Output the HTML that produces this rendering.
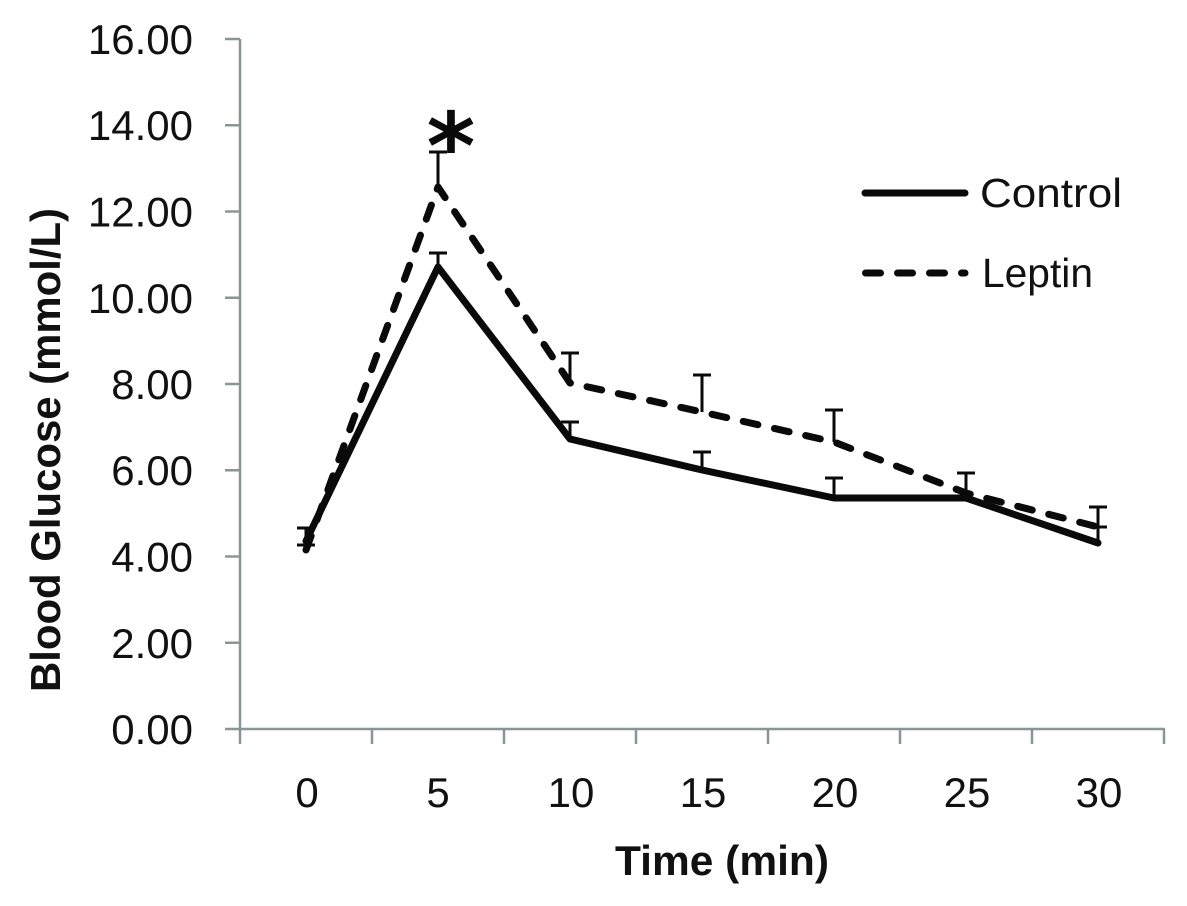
<!DOCTYPE html>
<html>
<head>
<meta charset="utf-8">
<style>
  html, body { margin: 0; padding: 0; background: #ffffff; }
  svg { display: block; }
</style>
</head>
<body>
<svg width="1187" height="906" viewBox="0 0 1187 906" xmlns="http://www.w3.org/2000/svg">
  <rect width="1187" height="906" fill="#ffffff"/>

  <!-- Axes -->
  <g stroke="#8a9696" stroke-width="2.5" fill="none">
    <line x1="240" y1="39" x2="240" y2="729"/>
    <line x1="225" y1="729" x2="1165" y2="729"/>
    <!-- y ticks -->
    <line x1="225" y1="39" x2="240" y2="39"/>
    <line x1="225" y1="125.25" x2="240" y2="125.25"/>
    <line x1="225" y1="211.5" x2="240" y2="211.5"/>
    <line x1="225" y1="297.75" x2="240" y2="297.75"/>
    <line x1="225" y1="384" x2="240" y2="384"/>
    <line x1="225" y1="470.25" x2="240" y2="470.25"/>
    <line x1="225" y1="556.5" x2="240" y2="556.5"/>
    <line x1="225" y1="642.75" x2="240" y2="642.75"/>
    <!-- x ticks -->
    <line x1="240" y1="729" x2="240" y2="744"/>
    <line x1="372" y1="729" x2="372" y2="744"/>
    <line x1="504" y1="729" x2="504" y2="744"/>
    <line x1="636" y1="729" x2="636" y2="744"/>
    <line x1="768" y1="729" x2="768" y2="744"/>
    <line x1="900" y1="729" x2="900" y2="744"/>
    <line x1="1032" y1="729" x2="1032" y2="744"/>
    <line x1="1164" y1="729" x2="1164" y2="744"/>
  </g>

  <!-- Y tick labels -->
  <g font-family="'Liberation Sans', Arial, sans-serif" font-size="42" fill="#111" text-anchor="end">
    <text x="193" y="54">16.00</text>
    <text x="193" y="140">14.00</text>
    <text x="193" y="226.5">12.00</text>
    <text x="193" y="313">10.00</text>
    <text x="193" y="399">8.00</text>
    <text x="193" y="485">6.00</text>
    <text x="193" y="571.5">4.00</text>
    <text x="193" y="658">2.00</text>
    <text x="193" y="744">0.00</text>
  </g>

  <!-- X tick labels -->
  <g font-family="'Liberation Sans', Arial, sans-serif" font-size="42" fill="#111" text-anchor="middle">
    <text x="307" y="807">0</text>
    <text x="438" y="807">5</text>
    <text x="571" y="807">10</text>
    <text x="703" y="807">15</text>
    <text x="835" y="807">20</text>
    <text x="967" y="807">25</text>
    <text x="1099" y="807">30</text>
  </g>

  <!-- Axis titles -->
  <text x="722" y="875" font-family="'Liberation Sans', Arial, sans-serif" font-size="42" font-weight="bold" fill="#111" text-anchor="middle" textLength="214" lengthAdjust="spacingAndGlyphs">Time (min)</text>
  <text transform="translate(60,450) rotate(-90)" x="0" y="0" font-family="'Liberation Sans', Arial, sans-serif" font-size="42" font-weight="bold" fill="#111" text-anchor="middle" textLength="484" lengthAdjust="spacingAndGlyphs">Blood Glucose (mmol/L)</text>

  <!-- Error bars -->
  <g stroke="#0a0a0a" stroke-width="3" fill="none">
    <!-- Control -->
    <line x1="306" y1="541" x2="306" y2="528"/><line x1="297" y1="528" x2="315" y2="528"/>
    <line x1="438" y1="267" x2="438" y2="253"/><line x1="429" y1="253" x2="447" y2="253"/>
    <line x1="570" y1="439" x2="570" y2="422"/><line x1="561" y1="422" x2="579" y2="422"/>
    <line x1="702" y1="470" x2="702" y2="452"/><line x1="693" y1="452" x2="711" y2="452"/>
    <line x1="834" y1="498" x2="834" y2="478"/><line x1="825" y1="478" x2="843" y2="478"/>
    <line x1="1098" y1="543" x2="1098" y2="527"/><line x1="1089" y1="527" x2="1107" y2="527"/>
    <!-- Leptin -->
    <line x1="306" y1="550" x2="306" y2="545"/><line x1="297" y1="545" x2="315" y2="545"/>
    <line x1="438" y1="187" x2="438" y2="152"/><line x1="429" y1="152" x2="447" y2="152"/>
    <line x1="570" y1="383" x2="570" y2="353"/><line x1="561" y1="353" x2="579" y2="353"/>
    <line x1="702" y1="412" x2="702" y2="375"/><line x1="693" y1="375" x2="711" y2="375"/>
    <line x1="834" y1="442" x2="834" y2="410"/><line x1="825" y1="410" x2="843" y2="410"/>
    <line x1="966" y1="493" x2="966" y2="473"/><line x1="957" y1="473" x2="975" y2="473"/>
    <line x1="1098" y1="527" x2="1098" y2="507"/><line x1="1089" y1="507" x2="1107" y2="507"/>
  </g>

  <!-- Series -->
  <polyline points="306,541 438,267 570,439 702,470 834,498 966,498 1098,543" fill="none" stroke="#0a0a0a" stroke-width="7" stroke-linejoin="round" stroke-linecap="round"/>
  <polyline points="306,550 438,187 570,383 702,412 834,442 966,493 1098,527" fill="none" stroke="#0a0a0a" stroke-width="7" stroke-linejoin="round" stroke-linecap="round" stroke-dasharray="15 17"/>

  <!-- Asterisk -->
  <text x="451" y="179" font-family="'DejaVu Sans', 'Liberation Sans', sans-serif" font-size="93" font-weight="bold" fill="#0a0a0a" text-anchor="middle">*</text>

  <!-- Legend -->
  <line x1="865" y1="193" x2="965" y2="193" stroke="#0a0a0a" stroke-width="7" stroke-linecap="round"/>
  <line x1="865.5" y1="273" x2="965" y2="273" stroke="#0a0a0a" stroke-width="7" stroke-linecap="round" stroke-dasharray="15 17"/>
  <g font-family="'Liberation Sans', Arial, sans-serif" font-size="41" fill="#111">
    <text x="980" y="207" textLength="142" lengthAdjust="spacingAndGlyphs">Control</text>
    <text x="982" y="287" textLength="111" lengthAdjust="spacingAndGlyphs">Leptin</text>
  </g>
</svg>
</body>
</html>
